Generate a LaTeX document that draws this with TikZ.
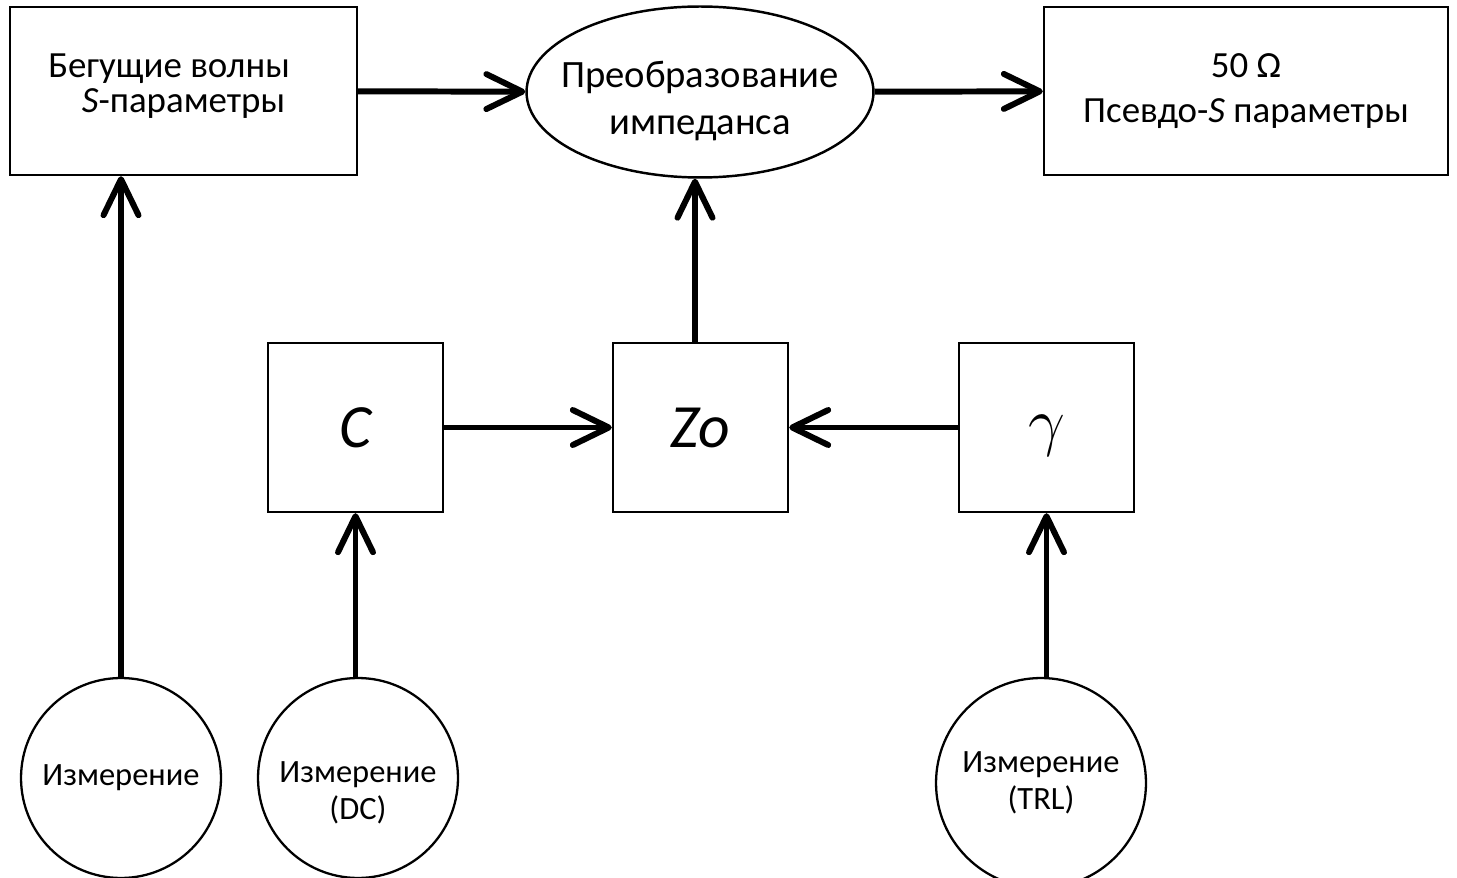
\documentclass[tikz,border=0pt]{standalone}
\usepackage{fontspec}
\setmainfont{Carlito}
\usetikzlibrary{shapes.geometric,arrows.meta,calc}
\tikzset {>={Straight Barb[length=7.2mm,width=7mm,line cap=round,line join=round]}}

\begin{document}
\begin{tikzpicture}[x=0.02cm,y=-0.02cm,
  blk/.style={draw,line width=1.4pt,inner sep=0pt,align=center,font=\fontsize{21}{25.5}\selectfont},
  sym/.style={blk,minimum width=3.5cm,minimum height=3.38cm,font=\fontsize{35}{38}\selectfont},
  oval/.style={blk,ellipse,inner xsep=-0.45cm,font=\fontsize{22}{26.5}\selectfont},
  meas/.style={draw,circle,line width=1.3pt,inner sep=0pt,minimum size=4cm,align=center,font=\fontsize{18.5}{21}\selectfont},
  flow/.style={->,line width=3.4pt}]
\useasboundingbox (0,0) rectangle (1457,878);
\node[blk,minimum width=6.94cm,minimum height=3.36cm,font=\fontsize{21}{20}\selectfont] (TW) at (183.5,91)
  {\hspace*{-0.58cm}Бегущие волны\\\textit{S}-параметры\rule[-9pt]{0pt}{1pt}};
\node[oval,minimum width=6.94cm,minimum height=3.42cm] (IT) at (700,92)
  {\rule{0pt}{25pt}Преобразование\\импеданса};
\node[blk,minimum width=8.08cm,minimum height=3.36cm] (PS) at (1246,91)
  {50 Ω\\Псевдо-\textit{S} параметры};
\node[sym] (C) at (355.5,427.5) {\itshape C};
\node[sym] (Z) at (700.5,427.5) {\itshape Zo};
\node[sym] (G) at (1046.5,427.5) {\smash{\raisebox{-9pt}{\scalebox{1.5}{$\gamma$}}}};
\node[meas] (M1) at (121,778) {Измерение};
\node[meas] (M2) at (358,778) {\rule{0pt}{29pt}Измерение\\(DC)};
\node[meas,minimum size=4.2cm] (M3) at (1041,783) {Измерение\\(TRL)};
\draw[flow] (TW) -- (IT);
\draw[flow] (IT) -- (PS);
\draw[flow] (C) -- (Z);
\draw[flow] (G) -- (Z);
\draw[flow] (Z.north -| IT.south) ++(-5,0) coordinate (Zt) -- (Zt |- IT.south);
\draw[flow] (M1.north) -- (M1.north |- TW.south);
\draw[flow] (M2.north -| C.south) -- (C.south);
\draw[flow] (M3.north -| G.south) -- (G.south);
\end{tikzpicture}
\end{document}
